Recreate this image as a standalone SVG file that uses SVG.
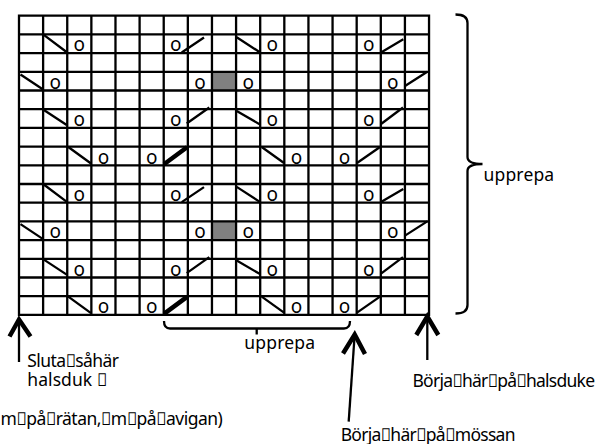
<svg xmlns="http://www.w3.org/2000/svg" width="598" height="444" viewBox="0 0 598 444">
<style>
.t{font-family:"Noto Sans","DejaVu Sans",sans-serif;font-size:17.5px;fill:#000}
.o{font-family:"Noto Sans","DejaVu Sans",sans-serif;font-size:19px;fill:#000;text-anchor:middle}
.ln{stroke:#000;stroke-width:2.3;fill:none}
.tk{stroke:#000;stroke-width:4.5;fill:none}
.gr{fill:#808080}
.ah{stroke:#000;stroke-width:4.5;fill:none;stroke-linejoin:miter;stroke-miterlimit:10}
</style>
<rect width="598" height="444" fill="#fff"/>
<g id="chart">
<rect class="gr" x="211.96" y="71.8" width="24.12" height="18.7"/>
<rect class="gr" x="211.96" y="221.4" width="24.12" height="18.7"/>
<path class="ln" stroke-linecap="square" d="M19,15.7V314.9M43.12,15.7V314.9M67.24,15.7V314.9M91.36,15.7V314.9M115.48,15.7V314.9M139.6,15.7V314.9M163.72,15.7V314.9M187.84,15.7V314.9M211.96,15.7V314.9M236.08,15.7V314.9M260.2,15.7V314.9M284.32,15.7V314.9M308.44,15.7V314.9M332.56,15.7V314.9M356.68,15.7V314.9M380.8,15.7V314.9M404.92,15.7V314.9M429.04,15.7V314.9M19,15.7H429.04M19,34.4H429.04M19,53.1H429.04M19,71.8H429.04M19,90.5H429.04M19,109.2H429.04M19,127.9H429.04M19,146.6H429.04M19,165.3H429.04M19,184H429.04M19,202.7H429.04M19,221.4H429.04M19,240.1H429.04M19,258.8H429.04M19,277.5H429.04M19,296.2H429.04M19,314.9H429.04"/>
<path class="ln" d="M43.1,34.4L67.2,52.5M181.7,52.5L204,37.5M236.7,37.3L260.2,52.5M381,52.5L403.3,39.3M20.5,74.5L43.1,89.5M405,86L427.3,71.8M43.1,109.5L66.7,125M186.7,123.5L209.3,107.5M236.7,111L260,124.5M381,124L403,107.5M68.3,147L91,163.5M261.7,147L284,163M357,163L380,147"/>
<path class="ln" d="M43.1,184L67.2,202.1M181.7,202.1L204,187.1M236.7,186.9L260.2,202.1M381,202.1L403.3,188.9M20.5,224.1L43.1,239.1M405,235.6L427.3,221.4M43.1,259.1L66.7,274.6M186.7,273.1L209.3,257.1M236.7,260.6L260,274.1M381,273.6L403,257.1M68.3,296.6L91,313.1M261.7,296.6L284,312.6M357,312.6L380,296.6"/>
<path class="tk" d="M164,164.3L187,147.3M164,313.9L187,296.9"/>
<text class="o" x="79.3" y="51.3">o</text><text class="o" x="175.78" y="51.3">o</text><text class="o" x="272.26" y="51.3">o</text><text class="o" x="368.74" y="51.3">o</text>
<text class="o" x="55.18" y="88.7">o</text><text class="o" x="199.9" y="88.7">o</text><text class="o" x="248.14" y="88.7">o</text><text class="o" x="392.86" y="88.7">o</text>
<text class="o" x="79.3" y="126.1">o</text><text class="o" x="175.78" y="126.1">o</text><text class="o" x="272.26" y="126.1">o</text><text class="o" x="368.74" y="126.1">o</text>
<text class="o" x="103.42" y="163.5">o</text><text class="o" x="151.66" y="163.5">o</text><text class="o" x="296.38" y="163.5">o</text><text class="o" x="344.62" y="163.5">o</text>
<text class="o" x="79.3" y="200.9">o</text><text class="o" x="175.78" y="200.9">o</text><text class="o" x="272.26" y="200.9">o</text><text class="o" x="368.74" y="200.9">o</text>
<text class="o" x="55.18" y="238.3">o</text><text class="o" x="199.9" y="238.3">o</text><text class="o" x="248.14" y="238.3">o</text><text class="o" x="392.86" y="238.3">o</text>
<text class="o" x="79.3" y="275.7">o</text><text class="o" x="175.78" y="275.7">o</text><text class="o" x="272.26" y="275.7">o</text><text class="o" x="368.74" y="275.7">o</text>
<text class="o" x="103.42" y="313.1">o</text><text class="o" x="151.66" y="313.1">o</text><text class="o" x="296.38" y="313.1">o</text><text class="o" x="344.62" y="313.1">o</text>
</g>
<g id="brace-right">
<path class="ln" stroke-width="2.5" d="M455.5,14.5Q467.5,14.5 467.5,23V157Q467.5,164 482.5,164Q467.5,164 467.5,171V305Q467.5,313.5 455.5,313.5"/>
<text class="t" x="483.5" y="181" textLength="70.7" lengthAdjust="spacing">upprepa</text>
</g>
<g id="brace-bottom">
<path class="ln" stroke-width="2.5" d="M164,321Q164,328.5 170,328.5H344Q350,328.5 350,321M256.7,328.5V334.5"/>
<text class="t" x="244.3" y="349" textLength="70.7" lengthAdjust="spacing">upprepa</text>
</g>
<g id="arrows">
<path class="ln" d="M19,362V322"/>
<path class="ah" d="M9.5,336.5L19,319.5L30.5,336.5"/>
<path class="ln" d="M348.7,421.7L354.5,337"/>
<path class="ah" d="M343,353.5L354.7,334.5L365,354"/>
<path class="ln" d="M427.3,360V319"/>
<path class="ah" d="M416.3,335L427.3,316.5L438.3,335"/>
</g>
<g id="labels">
<text class="t" x="27.3" y="367" textLength="91.7" lengthAdjust="spacing">Sluta&#xF020;såhär</text>
<text class="t" x="27.3" y="386" textLength="80" lengthAdjust="spacing">halsduk &#xF020;</text>
<text class="t" x="0.5" y="425" textLength="222.2" lengthAdjust="spacing">m&#xF020;på&#xF020;rätan,&#xF020;m&#xF020;på&#xF020;avigan)</text>
<text class="t" x="412.5" y="386.5" textLength="182.5" lengthAdjust="spacing">Börja&#xF020;här&#xF020;på&#xF020;halsduke</text>
<text class="t" x="340.7" y="440.5" textLength="174.8" lengthAdjust="spacing">Börja&#xF020;här&#xF020;på&#xF020;mössan</text>
</g>
</svg>
